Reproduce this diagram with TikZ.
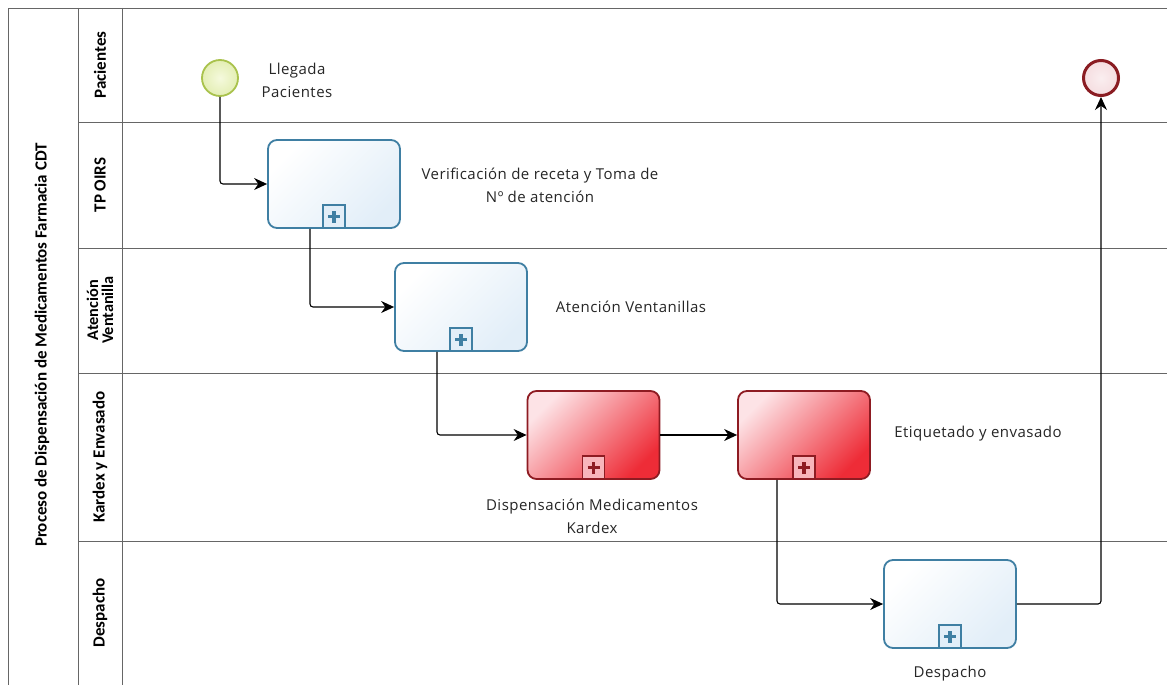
\documentclass[tikz,border=0pt]{standalone}
\usepackage{fontspec}
\setmainfont{Open Sans}[LetterSpace=3.2]
\newfontfamily\hdrfont{Carlito}
\usetikzlibrary{arrows.meta}
\definecolor{taskblue}{HTML}{3F7FA3}
\definecolor{blueB}{HTML}{E2EEF8}
\definecolor{taskred}{HTML}{8E1B22}
\definecolor{redA}{HTML}{FDE3E6}
\definecolor{redM}{HTML}{F6A3AA}
\definecolor{redB}{HTML}{EE2C37}
\definecolor{startG}{HTML}{A9C24C}
\definecolor{startF}{HTML}{EEF6C6}
\definecolor{endR}{HTML}{8A1C22}
\definecolor{endF}{HTML}{F5DDE0}
\tikzset{
  laneline/.style={draw=gray!80!black, line width=0.9pt},
  bluetask/.style={draw=taskblue, line width=1.8pt, rounded corners=9pt,
    minimum width=132pt, minimum height=88pt, inner sep=0pt,
    top color=white, bottom color=blueB, shading angle=45},
  redtask/.style={draw=taskred, line width=1.8pt, rounded corners=9pt,
    minimum width=132pt, minimum height=88pt, inner sep=0pt,
    top color=redA, middle color=redM, bottom color=redB, shading angle=45},
  bluemark/.style={draw=taskblue, line width=1.8pt, fill=blueB,
    minimum width=22pt, minimum height=23pt, inner sep=0pt, anchor=south},
  redmark/.style={draw=taskred, line width=1.8pt, fill=redM!80,
    minimum width=22pt, minimum height=23pt, inner sep=0pt, anchor=south},
  flow/.style={-{Stealth[length=13pt,width=12pt]}, line width=1.1pt, rounded corners=3pt},
  lbl/.style={font=\fontsize{15}{23}\selectfont, align=center, text=black!85},
  hdr/.style={font=\hdrfont\bfseries\fontsize{17}{17}\selectfont, rotate=90, align=center},
}
\newcommand\plusmark[2]{%
  \draw[#2, line width=3.8pt] ([xshift=-6pt]#1.center) -- ([xshift=6pt]#1.center);
  \draw[#2, line width=3.8pt] ([yshift=-6pt]#1.center) -- ([yshift=6pt]#1.center);}
\begin{document}
\begin{tikzpicture}[x=1pt,y=-1pt]
\useasboundingbox (0,0) rectangle (1167,685);
\fill[white] (0,0) rectangle (1167,685);
% pool and lanes
\draw[laneline] (8,685) -- (8,8) -- (1167,8);
\draw[laneline] (78,8) -- (78,685);
\draw[laneline] (122,8) -- (122,685);
\foreach \yy in {122,248,373,541} \draw[laneline] (78,\yy) -- (1167,\yy);
\node[hdr] (pool) at (42,345) {Proceso de Dispensación de Medicamentos Farmacia CDT};
\node[hdr] (l1) at (100,65) {Pacientes};
\node[hdr] (l2) at (100,185) {TP OIRS};
\node[hdr, font=\hdrfont\bfseries\fontsize{16.3}{15}\selectfont] (l3) at (100,310) {Atención\\Ventanilla};
\node[hdr] (l4) at (100,457) {Kardex y Envasado};
\node[hdr] (l5) at (100,613) {Despacho};
% events
\node[circle, draw=startG, line width=1.8pt, inner color=startF!60, outer color=startF!85!startG, minimum size=36pt, inner sep=0pt] (start) at (220,78) {};
\node[circle, draw=endR, line width=3pt, inner color=endF!50, outer color=endF, minimum size=35pt, inner sep=0pt] (end) at (1101,78) {};
% tasks
\node[bluetask] (t1) at (334,184) {};
\node[bluetask] (t2) at (461,307) {};
\node[redtask] (t3) at (593.5,435) {};
\node[redtask] (t4) at (804,435) {};
\node[bluetask] (t5) at (950,604) {};
\node[bluemark] (m1) at (t1.south) {}; \plusmark{m1}{taskblue}
\node[bluemark] (m2) at (t2.south) {}; \plusmark{m2}{taskblue}
\node[redmark] (m3) at (t3.south) {}; \plusmark{m3}{taskred}
\node[redmark] (m4) at (t4.south) {}; \plusmark{m4}{taskred}
\node[bluemark] (m5) at (t5.south) {}; \plusmark{m5}{taskblue}
% labels
\node[lbl] (a0) at (297,80) {Llegada\\Pacientes};
\node[lbl] (a1) at (540,185) {Verificación de receta y Toma de\\Nº de atención};
\node[lbl] (a2) at (631,307) {Atención Ventanillas};
\node[lbl] (a3) at (592,516) {Dispensación Medicamentos\\Kardex};
\node[lbl] (a4) at (978,434) {Etiquetado y envasado};
\node[lbl] (a5) at (950,674) {Despacho};
% flows
\coordinate (c1) at ([xshift=-24pt]t1.south);
\coordinate (c2) at ([xshift=-24pt]t2.south);
\coordinate (c4) at ([xshift=-27pt]t4.south);
\draw[flow] (start.south) |- (t1.west);
\draw[flow] (c1) |- (t2.west);
\draw[flow] (c2) |- (t3.west);
\draw[flow] (t3.east) -- (t4.west);
\draw[flow] (c4) |- (t5.west);
\draw[flow] (t5.east) -| (end.south);
\end{tikzpicture}
\end{document}
